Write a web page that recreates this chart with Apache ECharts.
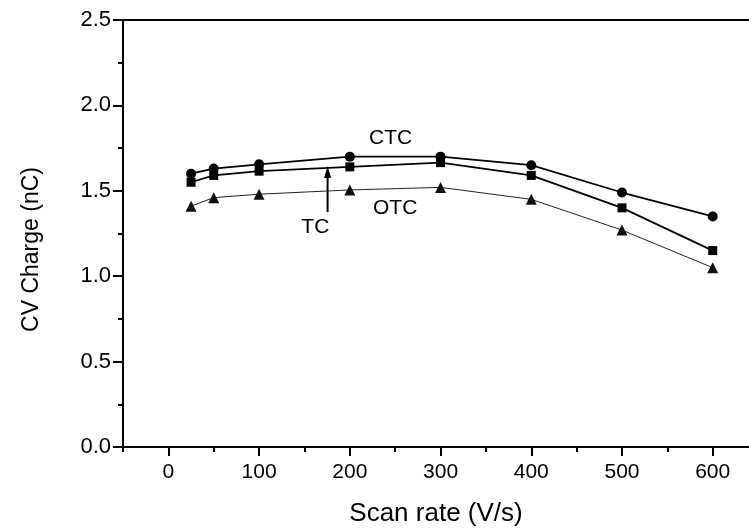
<!DOCTYPE html>
<html>
<head>
<meta charset="utf-8">
<script src="https://cdn.jsdelivr.net/npm/echarts@6/dist/echarts.min.js"></script>
<style>
  html, body { margin: 0; padding: 0; background: #fff; }
  #chart { width: 749px; height: 530px; }
</style>
</head>
<body>
<div id="chart"></div>
<script>
// Scan rates (V/s) and CV charge (nC) for the three electrode types
const scanRates = [25, 50, 100, 200, 300, 400, 500, 600];
const ctcCharge = [1.60, 1.63, 1.655, 1.70, 1.70, 1.65, 1.49, 1.35];
const tcCharge  = [1.55, 1.59, 1.615, 1.64, 1.665, 1.59, 1.40, 1.15];
const otcCharge = [1.41, 1.46, 1.48, 1.505, 1.52, 1.45, 1.27, 1.05];

// Axis ticks
const xMajorTicks = [0, 100, 200, 300, 400, 500, 600];
const xMinorTicks = [-50, 50, 150, 250, 350, 450, 550];
const yMajorTicks = [0, 0.5, 1.0, 1.5, 2.0, 2.5];
const yMinorTicks = [0.25, 0.75, 1.25, 1.75, 2.25];

// In-plot labels, placed in data coordinates
const seriesLabels = [
  { text: 'CTC', x: 245, y: 1.81 },
  { text: 'OTC', x: 250, y: 1.397 },
  { text: 'TC',  x: 162, y: 1.288 }
];
const tcArrow = { x: 175.5, yFrom: 1.376, yTo: 1.645 };

const FONT = '"Liberation Sans", Arial, Helvetica, sans-serif';

const pairs = vals => scanRates.map((x, i) => [x, vals[i]]);

const chart = echarts.init(document.getElementById('chart'), null, { renderer: 'canvas' });

const axisBase = { min: -50, max: 640, type: 'value', splitLine: { show: false } };
const yBase = { min: 0, max: 2.5, type: 'value', splitLine: { show: false } };

chart.setOption({
  animation: false,
  backgroundColor: '#fff',
  grid: { left: 123, right: 0, top: 20, bottom: 83, containLabel: false, outerBoundsMode: 'none' },
  xAxis: [
    Object.assign({}, axisBase, {
      position: 'bottom',
      axisLine: { onZero: false, lineStyle: { color: '#000', width: 2 } },
      axisTick: { inside: false, customValues: xMajorTicks, length: 9, lineStyle: { color: '#000', width: 2 } },
      axisLabel: { customValues: xMajorTicks, color: '#000', fontSize: 21, fontFamily: FONT, margin: 15 },
      name: 'Scan rate (V/s)',
      nameLocation: 'middle',
      nameGap: 54,
      nameTextStyle: { color: '#000', fontSize: 26, fontFamily: FONT }
    }),
    Object.assign({}, axisBase, {
      position: 'bottom',
      axisLine: { show: false, onZero: false },
      axisTick: { inside: false, customValues: xMinorTicks, length: 5, lineStyle: { color: '#000', width: 2 } },
      axisLabel: { show: false }
    }),
    Object.assign({}, axisBase, {
      position: 'top',
      axisLine: { onZero: false, lineStyle: { color: '#000', width: 2 } },
      axisTick: { show: false },
      axisLabel: { show: false }
    })
  ],
  yAxis: [
    Object.assign({}, yBase, {
      position: 'left',
      axisLine: { onZero: false, lineStyle: { color: '#000', width: 2 } },
      axisTick: { inside: false, customValues: yMajorTicks, length: 10, lineStyle: { color: '#000', width: 2 } },
      axisLabel: {
        customValues: yMajorTicks, color: '#000', fontSize: 22, fontFamily: FONT, margin: 12,
        formatter: v => v.toFixed(1)
      },
      name: 'CV Charge (nC)',
      nameLocation: 'middle',
      nameGap: 80,
      nameTextStyle: { color: '#000', fontSize: 23, fontFamily: FONT, padding: [0, 32, 0, 0] }
    }),
    Object.assign({}, yBase, {
      position: 'left',
      axisLine: { show: false, onZero: false },
      axisTick: { inside: false, customValues: yMinorTicks, length: 5, lineStyle: { color: '#000', width: 2 } },
      axisLabel: { show: false }
    })
  ],
  series: [
    {
      name: 'CTC', type: 'line', data: pairs(ctcCharge),
      symbol: 'circle', symbolSize: 10,
      lineStyle: { color: '#000', width: 1.8 },
      itemStyle: { color: '#000' }
    },
    {
      name: 'TC', type: 'line', data: pairs(tcCharge),
      symbol: 'rect', symbolSize: 9,
      lineStyle: { color: '#000', width: 1.8 },
      itemStyle: { color: '#000' }
    },
    {
      name: 'OTC', type: 'line', data: pairs(otcCharge),
      symbol: 'triangle', symbolSize: 11,
      lineStyle: { color: '#222', width: 1 },
      itemStyle: { color: '#111' }
    }
  ]
});

// Series labels and the arrow pointing at the TC curve
function drawAnnotations() {
  const px = (x, y) => chart.convertToPixel({ xAxisIndex: 0, yAxisIndex: 0 }, [x, y]);
  const elements = seriesLabels.map(l => {
    const p = px(l.x, l.y);
    return {
      type: 'text', x: p[0], y: p[1],
      style: { text: l.text, fill: '#000', font: '21px ' + FONT, align: 'center', verticalAlign: 'middle' }
    };
  });
  const a = px(tcArrow.x, tcArrow.yFrom);
  const b = px(tcArrow.x, tcArrow.yTo);
  elements.push({
    type: 'line',
    shape: { x1: a[0], y1: a[1], x2: b[0], y2: b[1] + 8 },
    style: { stroke: '#000', lineWidth: 2 }
  });
  elements.push({
    type: 'polygon',
    shape: { points: [[b[0], b[1]], [b[0] - 3.5, b[1] + 12], [b[0] + 3.5, b[1] + 12]] },
    style: { fill: '#000' }
  });
  chart.setOption({ graphic: { elements } });
}
drawAnnotations();
</script>
</body>
</html>
